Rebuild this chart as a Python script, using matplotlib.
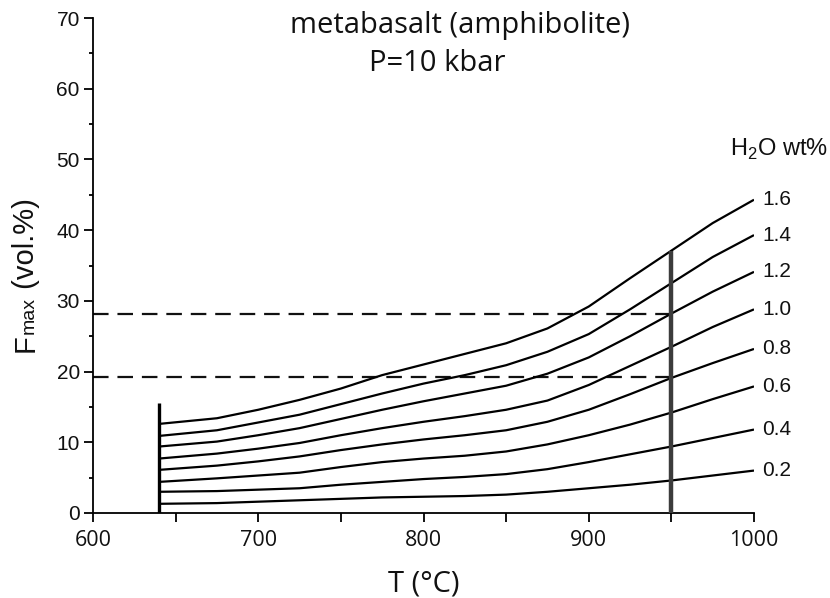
import matplotlib
matplotlib.use("Agg")
import matplotlib.pyplot as plt
from matplotlib.ticker import MultipleLocator

# ---- data ----
T = [640, 675, 700, 725, 750, 775, 800, 825, 850, 875, 900, 925, 950, 975, 1000]
h2o_labels = ["1.6", "1.4", "1.2", "1.0", "0.8", "0.6", "0.4", "0.2"]
f_16 = [12.6, 13.4, 14.6, 16.0, 17.6, 19.5, 21.0, 22.5, 24.0, 26.1, 29.2, 33.2, 37.1, 41.0, 44.3]
f_14 = [10.9, 11.7, 12.8, 13.9, 15.4, 16.9, 18.3, 19.5, 20.9, 22.8, 25.3, 28.8, 32.5, 36.2, 39.3]
f_12 = [9.4, 10.1, 11.0, 12.0, 13.3, 14.6, 15.8, 16.9, 18.0, 19.7, 22.0, 25.0, 28.2, 31.3, 34.1]
f_10 = [7.7, 8.4, 9.1, 9.9, 11.0, 12.0, 12.9, 13.7, 14.6, 15.9, 18.1, 20.8, 23.5, 26.3, 28.8]
f_08 = [6.1, 6.7, 7.3, 8.0, 8.9, 9.7, 10.4, 11.0, 11.7, 12.9, 14.6, 16.8, 19.1, 21.2, 23.2]
f_06 = [4.4, 4.9, 5.3, 5.7, 6.5, 7.2, 7.7, 8.1, 8.7, 9.7, 11.0, 12.5, 14.2, 16.1, 17.9]
f_04 = [3.0, 3.1, 3.3, 3.5, 4.0, 4.4, 4.8, 5.1, 5.5, 6.2, 7.2, 8.3, 9.4, 10.6, 11.8]
f_02 = [1.3, 1.4, 1.6, 1.8, 2.0, 2.2, 2.3, 2.4, 2.6, 3.0, 3.5, 4.0, 4.6, 5.3, 6.0]
curves = [f_16, f_14, f_12, f_10, f_08, f_06, f_04, f_02]

dashed_levels = [28.2, 19.2]
dashed_T_end = 950
left_line_T = 640
left_line_top = 15.5
right_line_T = 950

x_ticks = [600, 700, 800, 900, 1000]
y_ticks = [0, 10, 20, 30, 40, 50, 60, 70]

plt.rcParams['mathtext.fontset'] = 'custom'
plt.rcParams['mathtext.rm'] = 'Liberation Sans'

fig = plt.figure(figsize=(8.3, 5.98), dpi=100)
ax = fig.add_axes([93/830, 85/598, (754-93)/830, (513-18)/598])

ax.set_xlim(600, 1000)
ax.set_ylim(0, 70)

for c in curves:
    ax.plot(T, c, color='black', lw=1.6, solid_capstyle='butt',
            solid_joinstyle='round', zorder=3)

for lvl in dashed_levels:
    ax.plot([600, dashed_T_end], [lvl, lvl], color='#111111', lw=1.6,
            linestyle=(0, (7, 4)), zorder=2)

ax.plot([left_line_T, left_line_T], [0, left_line_top], color='black', lw=2.4,
        solid_capstyle='butt', zorder=4)
right_top = f_16[T.index(right_line_T)]
ax.plot([right_line_T, right_line_T], [0, right_top], color='#3c3c3c', lw=3.2,
        solid_capstyle='butt', zorder=4)

for lab, c in zip(h2o_labels, curves):
    ax.annotate(lab, (T[-1], c[-1]), xytext=(6, 0), textcoords='offset points',
                va='center', ha='left', fontsize=15, family='Liberation Sans',
                color='#111111', annotation_clip=False)

fig.text(828/830, 1 - 156/598, r'H$_\mathregular{2}$O wt%', ha='right', va='baseline',
         fontsize=17, family='Liberation Sans', color='#111111')

# spines / ticks
for s in ['top', 'right']:
    ax.spines[s].set_visible(False)
for s in ['left', 'bottom']:
    ax.spines[s].set_linewidth(1.3)
ax.set_xticks(x_ticks)
ax.set_yticks(y_ticks)
ax.xaxis.set_minor_locator(MultipleLocator(50))
ax.yaxis.set_minor_locator(MultipleLocator(5))
ax.tick_params(axis='both', which='major', direction='out', length=6.5, width=1.3)
ax.tick_params(axis='x', which='minor', direction='out', length=6.5, width=1.3)
ax.tick_params(axis='y', which='minor', direction='out', length=3, width=1.3)
ax.tick_params(axis='y', which='major', pad=3)
ax.tick_params(axis='x', which='major', pad=6)
for lbl in ax.get_yticklabels():
    lbl.set_family('Liberation Sans')
    lbl.set_fontsize(15)
    lbl.set_color('#111111')
for lbl in ax.get_xticklabels():
    lbl.set_family('Open Sans')
    lbl.set_fontsize(15.5)
    lbl.set_color('#111111')

# titles
fig.text(460/830, 1 - 33/598, 'metabasalt (amphibolite)', ha='center', va='baseline',
         fontsize=21, family='Open Sans', color='#111111')
fig.text(437/830, 1 - 71/598, 'P=10 kbar', ha='center', va='baseline',
         fontsize=21, family='Open Sans', color='#111111')

# x label
fig.text(424/830, 1 - 592/598, 'T (°C)', ha='center', va='baseline',
         fontsize=21, family='Open Sans', color='#111111')

# y label composed of pieces
fig.canvas.draw()
r = fig.canvas.get_renderer()
x0 = 34/830
y0 = (598 - 352)/598
pieces = [('F', 21), ('max', 14), (' (vol.%)', 21)]
y = y0
for txt, fs in pieces:
    t = fig.text(x0, y, txt, rotation=90, rotation_mode='anchor', ha='left',
                 va='baseline', fontsize=fs, family='Liberation Sans', color='#111111')
    bb = t.get_window_extent(r)
    y += bb.height / fig.bbox.height

fig.savefig('out.png', dpi=100)
